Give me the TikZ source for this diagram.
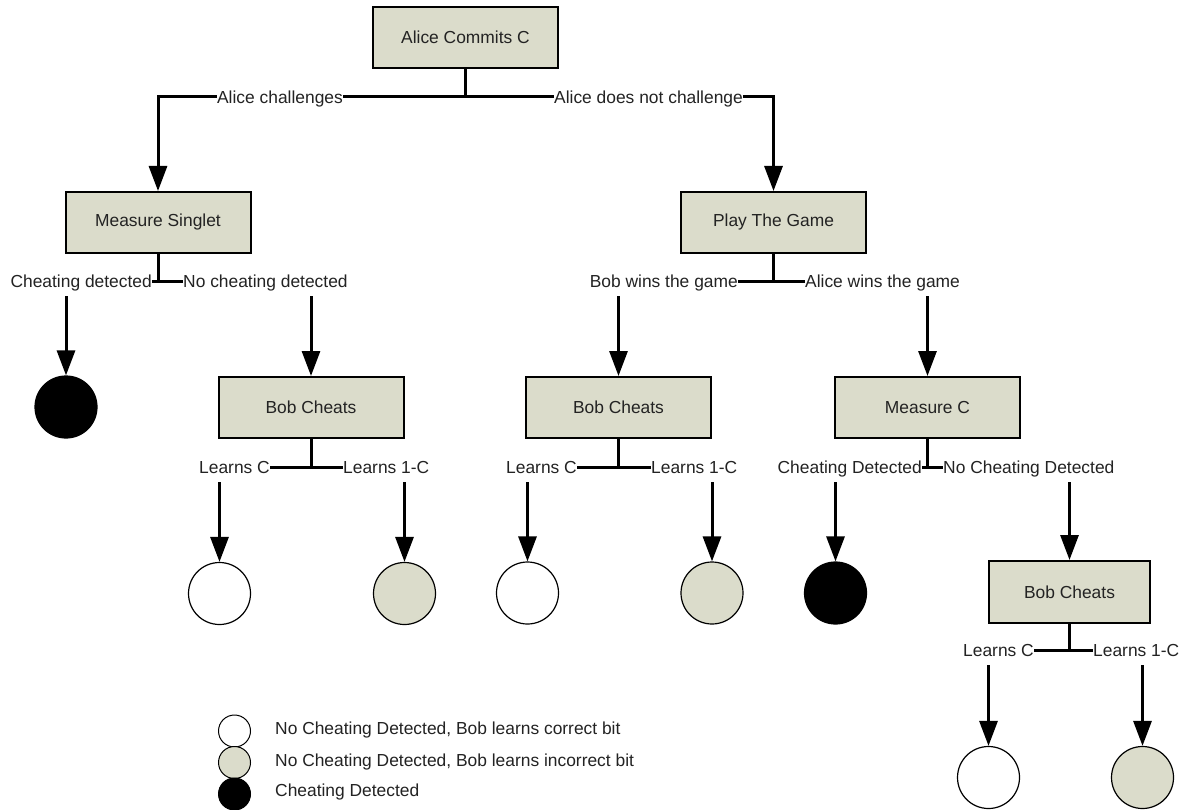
\documentclass[tikz,border=0pt]{standalone}
\usepackage{fontspec}
\setmainfont{Liberation Sans}
\usetikzlibrary{arrows.meta}
\definecolor{boxfill}{RGB}{219,220,203}
\definecolor{txt}{RGB}{35,35,35}
\begin{document}
\begin{tikzpicture}[x=1pt,y=-1pt,
  font=\fontsize{17.4}{20}\selectfont, text=txt,
  box/.style={draw=black, line width=2pt, fill=boxfill, minimum width=185pt, minimum height=61pt, inner sep=0pt},
  leaf/.style={circle, draw=black, line width=1.2pt, minimum size=62pt, inner sep=0pt},
  wleaf/.style={leaf, fill=white},
  gleaf/.style={leaf, fill=boxfill},
  kleaf/.style={leaf, fill=black},
  sleaf/.style={circle, draw=black, line width=1pt, minimum size=32pt, inner sep=0pt},
  conn/.style={draw=black, line width=3pt},
  arr/.style={conn, -{Triangle[length=25pt,width=18pt]}},
  lab/.style={fill=white, inner xsep=0.5pt, inner ysep=4.5pt, text height=13pt, text depth=4pt},
  legtext/.style={anchor=base west, inner sep=0pt}
]
\fill[white] (0,0) rectangle (1193,810);
\useasboundingbox (0,0) rectangle (1193,810);

% boxes
\node[box] (top) at (465.5,37.5) {Alice Commits C};
\node[box] (ms) at (158,222.5) {Measure Singlet};
\node[box] (pg) at (773.5,222.5) {Play The Game};
\node[box] (bc1) at (311,407.5) {Bob Cheats};
\node[box] (bc2) at (618.5,407.5) {Bob Cheats};
\node[box] (mc) at (927.5,407.5) {Measure C};
\node[box, minimum width=161pt, minimum height=62pt] (bc3) at (1069.5,592) {Bob Cheats};

% leaves
\node[kleaf] (k1) at (66,407) {};
\node[wleaf] (w1) at (219.5,593.5) {};
\node[gleaf] (g1) at (404.5,593.5) {};
\node[wleaf] (w2) at (527.5,593) {};
\node[gleaf] (g2) at (712,593) {};
\node[kleaf] (k2) at (835.5,593) {};
\node[wleaf] (w3) at (988.5,777.5) {};
\node[gleaf] (g3) at (1142.5,777.5) {};

% junctions
\coordinate (j1) at (465.5,97);
\coordinate (j2) at (158,281);
\coordinate (j3) at (773.5,281);
\coordinate (j4) at (311,467);
\coordinate (j5) at (618.5,467);
\coordinate (j6) at (927.5,467);
\coordinate (j7) at (1069.5,650);

% connectors
\draw[conn] (top.south) -- (j1);
\draw[arr] (j1) -| (ms.north);
\draw[arr] (j1) -| (pg.north);
\draw[conn] (ms.south) -- (j2);
\draw[arr] (j2) -| (k1.north);
\draw[arr] (j2) -| (bc1.north);
\draw[conn] (pg.south) -- (j3);
\draw[arr] (j3) -| (bc2.north);
\draw[arr] (j3) -| (mc.north);
\draw[conn] (bc1.south) -- (j4);
\draw[arr] (j4) -| (w1.north);
\draw[arr] (j4) -| (g1.north);
\draw[conn] (bc2.south) -- (j5);
\draw[arr] (j5) -| (w2.north);
\draw[arr] (j5) -| (g2.north);
\draw[conn] (mc.south) -- (j6);
\draw[arr] (j6) -| (k2.north);
\draw[arr] (j6) -| (bc3.north);
\draw[conn] (bc3.south) -- (j7);
\draw[arr] (j7) -| (w3.north);
\draw[arr] (j7) -| (g3.north);

% edge labels
\node[lab, anchor=base] (l1a) at (280,103.3) {Alice challenges};
\node[lab, anchor=base] (l1b) at (648.5,103.3) {Alice does not challenge};
\node[lab, anchor=base east] (l2a) at (152.5,287.3) {Cheating detected};
\node[lab, anchor=base west] (l2b) at (182.5,287.3) {No cheating detected};
\node[lab, anchor=base east] (l3a) at (738.5,287.3) {Bob wins the game};
\node[lab, anchor=base west] (l3b) at (804.5,287.3) {Alice wins the game};
\node[lab, anchor=base east] (l4a) at (270.5,473.3) {Learns C};
\node[lab, anchor=base west] (l4b) at (342.5,473.3) {Learns 1-C};
\node[lab, anchor=base east] (l5a) at (577.5,473.3) {Learns C};
\node[lab, anchor=base west] (l5b) at (650.5,473.3) {Learns 1-C};
\node[lab, anchor=base east] (l6a) at (922.5,473.3) {Cheating Detected};
\node[lab, anchor=base west] (l6b) at (942.5,473.3) {No Cheating Detected};
\node[lab, anchor=base east] (l7a) at (1034.5,656.3) {Learns C};
\node[lab, anchor=base west] (l7b) at (1092.5,656.3) {Learns 1-C};

% legend
\node[sleaf, fill=white] (lw) at (234.5,731) {};
\node[sleaf, fill=boxfill] (lg) at (234.5,762.5) {};
\node[sleaf, fill=black] (lk) at (234.5,794) {};
\node[legtext] (tw) at (275,734) {No Cheating Detected, Bob learns correct bit};
\node[legtext] (tg) at (275,766) {No Cheating Detected, Bob learns incorrect bit};
\node[legtext] (tk) at (275,796) {Cheating Detected};
\end{tikzpicture}
\end{document}
